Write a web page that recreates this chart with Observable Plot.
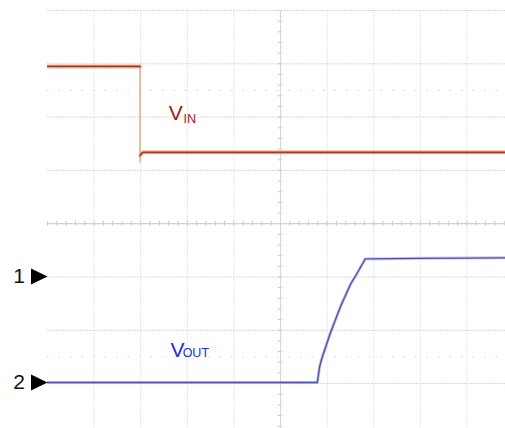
<!DOCTYPE html>
<html>
<head>
<meta charset="utf-8">
<script src="https://cdn.jsdelivr.net/npm/d3@7"></script>
<script src="https://cdn.jsdelivr.net/npm/@observablehq/plot@0.6"></script>
<style>
  html, body { margin: 0; padding: 0; background: #ffffff; }
  #chart svg { display: block; }
</style>
</head>
<body>
<div id="chart"></div>
<script>
// Scope capture: time and level are in screen divisions (10 x 8 grid, center at 5, 0).

// Channel 1: VIN steps down
const vinHighTime  = [0.00, 1.985];
const vinHighLevel = [2.95, 2.95];
const vinEdgeTime  = [1.985];
const vinEdgeFrom  = [2.95];
const vinEdgeTo    = [1.14];
const vinLowTime   = [1.99, 2.02, 2.06, 4.00, 6.00, 8.00, 9.90];
const vinLowLevel  = [1.28, 1.32, 1.34, 1.34, 1.34, 1.34, 1.34];

// Channel 2: VOUT ramps up after a delay
const voutTime  = [0.00, 5.79, 5.84, 5.89, 6.07, 6.29, 6.50, 6.65, 6.82, 8.00, 9.90];
const voutLevel = [-2.98, -2.98, -2.68, -2.52, -2.05, -1.55, -1.14, -0.92, -0.66, -0.65, -0.64];

// Channel ground markers on the left edge
const markerNames  = ["1", "2"];
const markerLevels = [-0.99, -2.98];

// Trace labels (main letter + subscript)
const labelMain   = ["V", "V"];
const labelSub    = ["IN", "OUT"];
const labelTime   = [2.60, 2.64];
const labelLevel  = [1.95, -2.495];
const labelSubTime  = [2.92, 2.90];
const labelSubLevel = [1.886, -2.495];
const labelColors = ["#9b1c1c", "#2a2ae0"];

// Grid
const gridTimes  = d3.range(1, 10);
const gridLevels = d3.range(-3, 5);
const refLevels  = [2.5, -2.5];
const minorTimes  = d3.range(0, 10.01, 0.2);
const minorLevels = d3.range(-4, 4.01, 0.2);

const vinHigh = vinHighTime.map((t, i) => ({t, v: vinHighLevel[i]}));
const vinLow  = vinLowTime.map((t, i) => ({t, v: vinLowLevel[i]}));
const vinEdge = vinEdgeTime.map((t, i) => ({t, v1: vinEdgeFrom[i], v2: vinEdgeTo[i]}));
const vout    = voutTime.map((t, i) => ({t, v: voutLevel[i]}));
const markers = markerNames.map((name, i) => ({name, v: markerLevels[i]}));
const labels  = labelMain.map((m, i) => ({
  m, s: labelSub[i], t: labelTime[i], v: labelLevel[i],
  ts: labelSubTime[i], vs: labelSubLevel[i], c: labelColors[i]
}));

// Right-pointing channel marker, tip at the anchor point
const arrowSymbol = {
  draw(context) {
    context.moveTo(0, 0);
    context.lineTo(-16.5, -8);
    context.lineTo(-16.5, 8);
    context.closePath();
  }
};

const chart = Plot.plot({
  width: 505,
  height: 428,
  marginLeft: 47,
  marginRight: 0,
  marginTop: 10,
  marginBottom: 0,
  style: {fontFamily: "'Liberation Sans', Arial, sans-serif", background: "#ffffff"},
  x: {domain: [0, 10], range: [47, 513], axis: null},
  y: {domain: [-4, 4], range: [436.4, 10], axis: null},
  marks: [
    // vertical grid
    Plot.ruleX(gridTimes, {x: d => d, y1: -4, y2: 4, stroke: "#e3e3e3", strokeWidth: 1, strokeDasharray: "2,1"}),
    // horizontal grid
    Plot.ruleY(gridLevels, {y: d => d, x1: 0, x2: 10, stroke: "#d6d6d6", strokeWidth: 1, strokeDasharray: "2,1"}),
    // sparse dotted reference levels
    Plot.ruleY(refLevels, {y: d => d, x1: 0, x2: 10, stroke: "#cfcfcf", strokeWidth: 1, strokeDasharray: "1.5,10"}),
    // center crosshair tick marks
    Plot.ruleX(minorTimes, {x: d => d, y1: -0.045, y2: 0.045, stroke: "#c8c8c8", strokeWidth: 1}),
    Plot.ruleY(minorLevels, {y: d => d, x1: 4.95, x2: 5.05, stroke: "#c8c8c8", strokeWidth: 1}),
    Plot.ruleX([5], {x: d => d, y1: -4, y2: 4, stroke: "#d6d6d6", strokeWidth: 1}),
    Plot.ruleY([0], {y: d => d, x1: 0, x2: 10, stroke: "#cfcfcf", strokeWidth: 1}),

    // VIN trace
    Plot.ruleX(vinEdge, {x: "t", y1: "v1", y2: "v2", stroke: "#d39a7c", strokeWidth: 1.2, clip: true}),
    Plot.line(vinHigh, {x: "t", y: "v", stroke: "#eea085", strokeWidth: 4, strokeOpacity: 0.7, clip: true}),
    Plot.line(vinHigh, {x: "t", y: "v", stroke: "#a33a22", strokeWidth: 1.7, clip: true}),
    Plot.line(vinLow, {x: "t", y: "v", stroke: "#eea085", strokeWidth: 4, strokeOpacity: 0.7, clip: true}),
    Plot.line(vinLow, {x: "t", y: "v", stroke: "#a33a22", strokeWidth: 1.7, clip: true}),

    // VOUT trace
    Plot.line(vout, {x: "t", y: "v", stroke: "#b4b4e2", strokeWidth: 3, strokeOpacity: 0.8, clip: true}),
    Plot.line(vout, {x: "t", y: "v", stroke: "#5454b0", strokeWidth: 1.4, clip: true}),

    // labels
    Plot.text(labels, {x: "t", y: "v", text: "m", fill: "c", fontSize: 21, textAnchor: "start", lineAnchor: "bottom"}),
    Plot.text(labels, {x: "ts", y: "vs", text: "s", fill: "c", fontSize: 12.5, textAnchor: "start", lineAnchor: "bottom"}),

    // channel ground markers
    Plot.dot(markers, {x: 0, y: "v", symbol: arrowSymbol, fill: "#000000", stroke: null, r: 8}),
    Plot.text(markers, {x: 0, y: "v", text: "name", dx: -22.5, fill: "#111111", fontSize: 21, textAnchor: "end", lineAnchor: "middle"})
  ]
});

document.getElementById("chart").appendChild(chart);
</script>
</body>
</html>
